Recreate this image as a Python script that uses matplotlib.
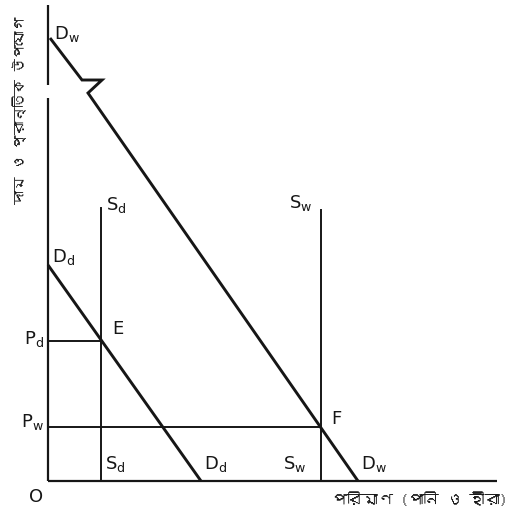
import matplotlib
matplotlib.use("Agg")
import matplotlib.pyplot as plt
from matplotlib import font_manager
from matplotlib.ft2font import FT2Font

# quantities and prices, measured from the origin O (arbitrary units)
q_sd = 53          # supply of diamonds (vertical)
q_sw = 273         # supply of water (vertical)
p_d = 140          # price of diamonds
p_w = 54           # price of water
sd_top = 273
sw_top = 271

# demand for diamonds: price intercept -> quantity intercept
dd_q = [0, 153]
dd_p = [216, 0]

# demand for water, with the break mark near the top
dw_q = [2, 34, 54, 40, 310]
dw_p = [443, 401, 401, 388, 0]

# axes (the y axis has a break)
y_axis_low = [0, 383]
y_axis_high = [396, 476]
x_axis_end = 449

y_label = "দাম ও প্রান্তিক উপযোগ"
x_label = "পরিমাণ (পানি ও হীরা)"


def bengali_family():
    for f in font_manager.fontManager.ttflist:
        try:
            cmap = FT2Font(f.fname).get_charmap()
        except Exception:
            continue
        if 0x09AA in cmap and 0x09BE in cmap:
            return f.name
    return None


bn = bengali_family()
bn_fam = [bn, "DejaVu Sans"] if bn else ["DejaVu Sans"]

plt.rcParams["mathtext.fontset"] = "dejavusans"
ink = "#161616"

fig = plt.figure(figsize=(5.11, 5.19), dpi=100)
ax = fig.add_axes([0, 0, 1, 1])
ax.set_xlim(-48, 463)
ax.set_ylim(-38, 481)
ax.axis("off")

# axes
ax.plot([0, 0], y_axis_low, color=ink, lw=1.6, solid_capstyle="butt")
ax.plot([0, 0], y_axis_high, color=ink, lw=1.6, solid_capstyle="butt")
ax.plot([0, x_axis_end], [0, 0], color=ink, lw=1.6, solid_capstyle="butt")

# supply lines
ax.plot([q_sd, q_sd], [0, sd_top], color=ink, lw=1.4)
ax.plot([q_sw, q_sw], [0, sw_top], color=ink, lw=1.4)

# price lines
ax.plot([0, q_sd], [p_d, p_d], color=ink, lw=1.4)
ax.plot([0, q_sw], [p_w, p_w], color=ink, lw=1.4)

# demand curves
ax.plot(dd_q, dd_p, color=ink, lw=2.1, solid_capstyle="butt")
ax.plot(dw_q, dw_p, color=ink, lw=2.1, solid_capstyle="butt",
        solid_joinstyle="miter")

fs = 13
lab = dict(color=ink, fontsize=fs, va="center")
ax.text(6, 447, r"D$_{\rm w}$", ha="left", **lab)
ax.text(4, 224, r"D$_{\rm d}$", ha="left", **lab)
ax.text(58, 276, r"S$_{\rm d}$", ha="left", **lab)
ax.text(241, 278, r"S$_{\rm w}$", ha="left", **lab)
ax.text(64, 152, "E", ha="left", **lab)
ax.text(283, 62, "F", ha="left", **lab)
ax.text(-4, 142, r"P$_{\rm d}$", ha="right", **lab)
ax.text(-4, 59, r"P$_{\rm w}$", ha="right", **lab)
ax.text(57, 17, r"S$_{\rm d}$", ha="left", **lab)
ax.text(156, 17, r"D$_{\rm d}$", ha="left", **lab)
ax.text(235, 17, r"S$_{\rm w}$", ha="left", **lab)
ax.text(313, 17, r"D$_{\rm w}$", ha="left", **lab)
ax.text(-12, -16, "O", ha="center", **lab)

ax.text(459, -19, x_label, ha="right", va="center", fontsize=11,
        color=ink, family=bn_fam)
ax.text(-28, 371, y_label, ha="center", va="center", fontsize=10,
        rotation=90, color=ink, family=bn_fam)

fig.savefig("out.png", dpi=100)
